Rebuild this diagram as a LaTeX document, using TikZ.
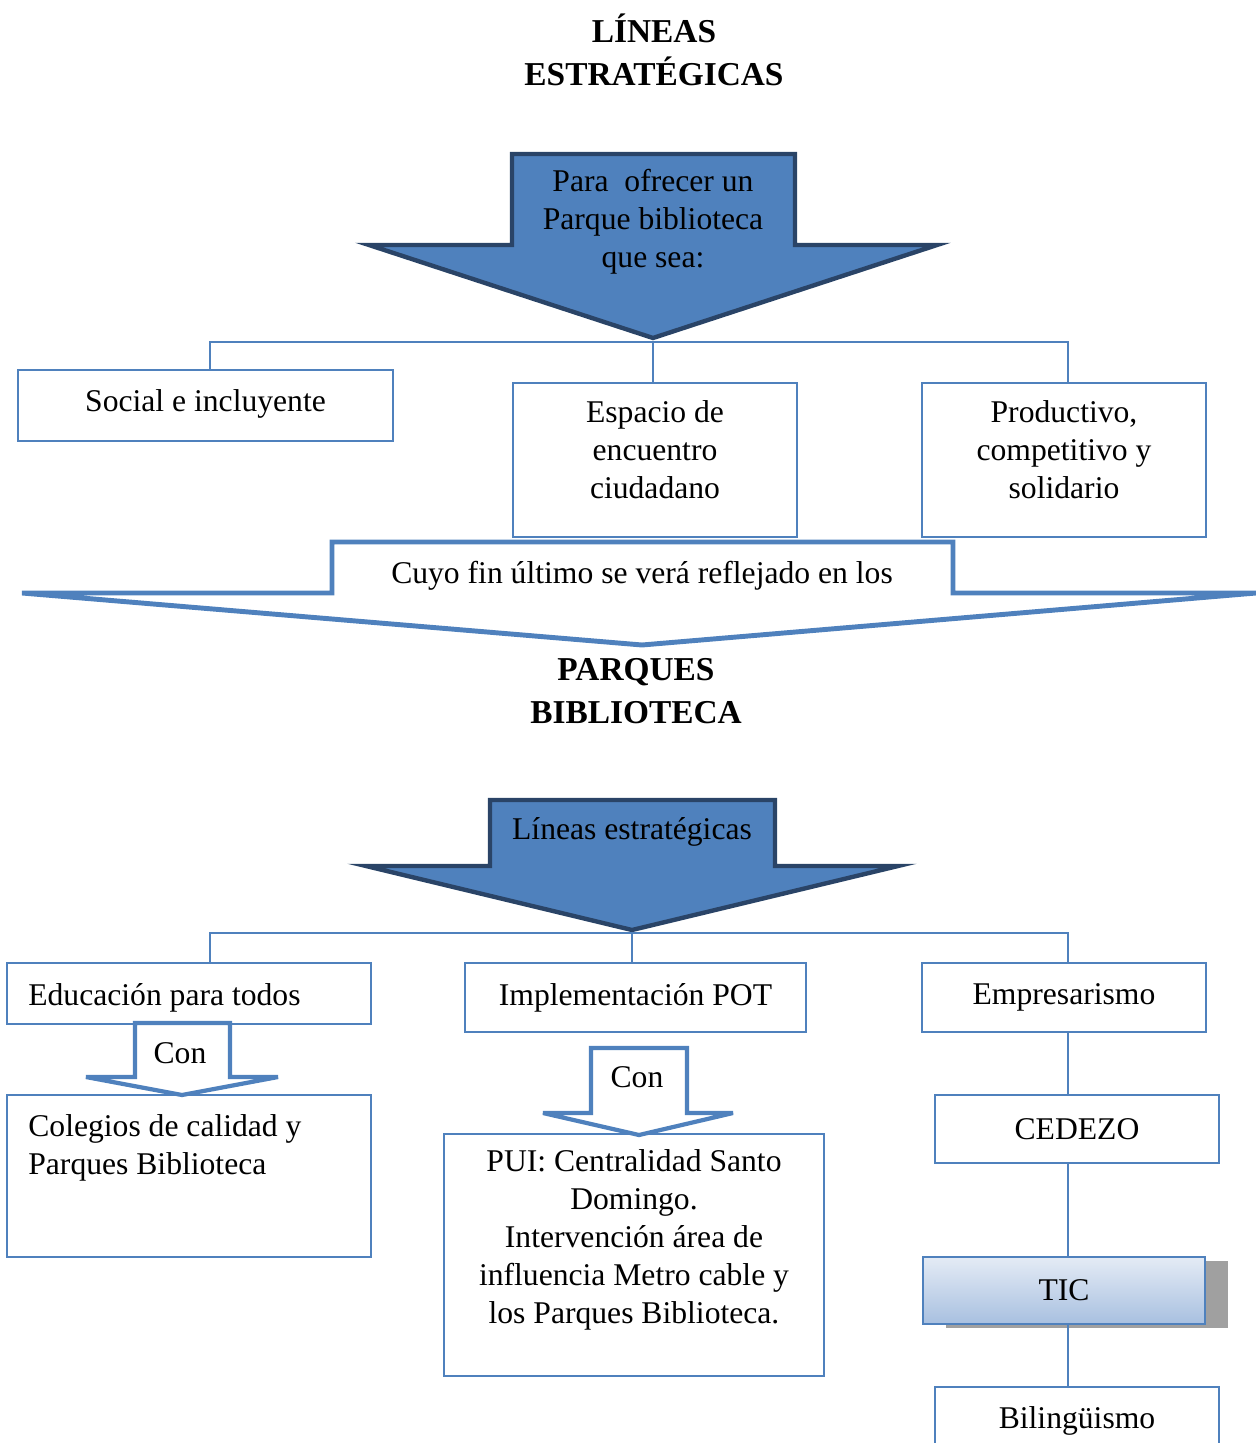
\documentclass[tikz,border=0pt]{standalone}
\usepackage{fontspec}
\setmainfont{Liberation Serif}
\usetikzlibrary{shadows}
\definecolor{abl}{HTML}{4F81BD}
\definecolor{adk}{HTML}{2A4467}
\definecolor{tictop}{HTML}{E4EBF5}
\definecolor{ticbot}{HTML}{A8C0E0}
\definecolor{shd}{HTML}{A0A0A0}
\newcommand\bodyfnt{\fontsize{18pt}{21.7pt}\selectfont}
\newcommand\ttlfnt{\fontsize{19pt}{24.4pt}\selectfont\bfseries}
\begin{document}
\begin{tikzpicture}[x=0.02cm,y=-0.02cm,
  box/.style={draw=abl, line width=0.8pt, fill=white, inner sep=0pt, align=center, font=\bodyfnt},
  conn/.style={draw=abl, line width=1.1pt},
  bigarrow/.style={fill=abl, draw=adk, line width=2.5pt},
  hollow/.style={fill=white, draw=abl, line width=2.8pt, miter limit=6},
  ttl/.style={font=\ttlfnt, align=center, inner sep=0pt},
  txt/.style={font=\bodyfnt, align=center, inner sep=0pt}]
\useasboundingbox (0,0) rectangle (1256,1443);
\clip (0,0) rectangle (1256,1443);

% ---- top title
\node[ttl] (t1) at (654,50) {LÍNEAS\\ESTRATÉGICAS};

% ---- first arrow
\path[bigarrow] (512,154) -- (795,154) -- (795,245) -- (937,245) -- (653,338) -- (369,245) -- (512,245) -- cycle;
\node[txt] (a1) at (653,222) {Para\ \ ofrecer un\\Parque biblioteca\\que sea:};
\coordinate (j1) at (653,342);

\node[box, minimum width=7.5cm, minimum height=1.42cm] (soc) at (205.5,405.5) {};
\node[txt] (soct) at (205.5,403.5) {Social e incluyente};
\node[box, minimum width=5.68cm, minimum height=3.08cm] (esp) at (655,460) {};
\node[txt] (espt) at (655,450) {Espacio de\\encuentro\\ciudadano};
\node[box, minimum width=5.68cm, minimum height=3.08cm] (pro) at (1064,460) {};
\node[txt] (prot) at (1064,450) {Productivo,\\competitivo y\\solidario};

\draw[conn] ([xshift=0.09cm]soc.north) |- (j1) -| ([xshift=0.08cm]pro.north);
\draw[conn] (j1) -- (j1 |- esp.north);

% ---- hollow arrow
\path[hollow] (332,542) -- (953,542) -- (953,593) -- (1256,593) -- (642,645) -- (22,593) -- (332,593) -- cycle;
\node[txt] (a2) at (642,576) {Cuyo fin último se verá reflejado en los};

\node[ttl] (t2) at (636,691) {PARQUES\\BIBLIOTECA};

% ---- second blue arrow
\path[bigarrow] (490,800) -- (775,800) -- (775,866) -- (898,866) -- (632,930) -- (366,866) -- (490,866) -- cycle;
\node[txt] (a3) at (632,832) {Líneas estratégicas};
\coordinate (j2) at (632,933);

\node[box, minimum width=7.28cm, minimum height=1.22cm] (edu) at (189,993.5) {};
\node[txt, anchor=west] (edut) at (28,997.5) {Educación para todos};
\node[box, minimum width=6.82cm, minimum height=1.38cm] (imp) at (635.5,997.5) {Implementación POT};
\node[box, minimum width=5.68cm, minimum height=1.38cm] (emp) at (1064,997.5) {Empresarismo};

\draw[conn] ([xshift=0.42cm]edu.north) |- (j2) -| ([xshift=0.08cm]emp.north);
\draw[conn] (j2) -- (j2 |- imp.north);

% ---- left column
\node[box, minimum width=7.28cm, minimum height=3.24cm] (col) at (189,1176) {};
\node[txt, anchor=north west, align=flush left] (colt) at (28,1114) {Colegios de calidad y\\Parques Biblioteca};
\path[hollow, line width=2.4pt] (135,1023) -- (230,1023) -- (230,1077) -- (278,1077) -- (182,1095) -- (86,1077) -- (135,1077) -- cycle;
\node[txt] (c1) at (180,1053) {Con};

% ---- middle column
\node[box, minimum width=7.6cm, minimum height=4.84cm] (pui) at (634,1255) {};
\node[txt] (puit) at (634,1240) {PUI: Centralidad Santo\\Domingo.\\Intervención área de\\influencia Metro cable y\\los Parques Biblioteca.};
\path[hollow, line width=2.4pt] (591,1048) -- (687,1048) -- (687,1113) -- (733,1113) -- (639,1135) -- (543,1113) -- (591,1113) -- cycle;
\node[txt] (c2) at (637,1077) {Con};

% ---- right column
\coordinate (sp) at (1068,0);
\node[box, minimum width=5.68cm, minimum height=1.36cm] (ced) at (1077,1129) {CEDEZO};
\node[box, draw=abl, line width=1.3pt, top color=tictop, bottom color=ticbot, minimum width=5.64cm, minimum height=1.34cm,
  drop shadow={shadow xshift=0.46cm, shadow yshift=-0.08cm, fill=shd, opacity=1}] (tic) at (1064,1290.5) {TIC};
\node[box, minimum width=5.68cm, minimum height=1.36cm] (bil) at (1077,1421) {Bilingüismo};

\draw[conn] (emp.south -| sp) -- (ced.north -| sp);
\draw[conn] (ced.south -| sp) -- (tic.north -| sp);
\draw[conn] (tic.south -| sp) -- (bil.north -| sp);
\end{tikzpicture}
\end{document}
